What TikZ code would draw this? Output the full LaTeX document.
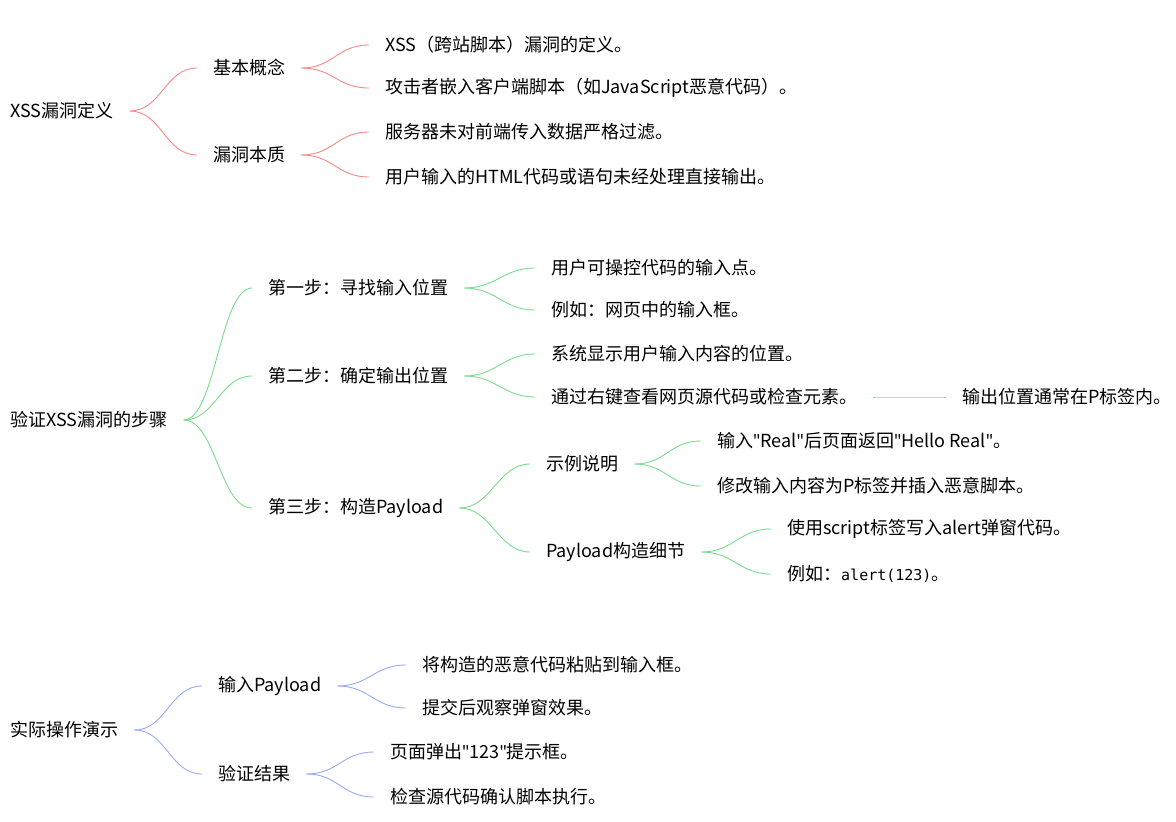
\documentclass[tikz,border=0pt]{standalone}
\usepackage{fontspec}
\setmainfont{Noto Sans CJK SC}
\newfontfamily\monof{DejaVu Sans Mono}
\newfontfamily\qf{Noto Sans}
\definecolor{cr}{RGB}{250,135,135}
\definecolor{cg}{RGB}{120,220,140}
\definecolor{cb}{RGB}{150,170,250}
\newcommand\q{{\qf"}}
\tikzset{t/.style={anchor=west,inner sep=0pt,font=\fontsize{18}{21}\selectfont},
 br/.style={line width=0.9pt}}
\newcommand\lnk[3]{\draw[br,#1] ([xshift=16pt]#2.east) .. controls +(32pt,0) and +(-32pt,0) .. ([xshift=-16pt]#3.west);}
\begin{document}
\begin{tikzpicture}[x=1pt,y=-1pt]
\useasboundingbox (0,0) rectangle (1176,822);
\node[t] (A) at (10,111) {XSS漏洞定义};
\node[t] (A1) at (213,68) {基本概念};
\node[t] (A11) at (385,45) {XSS（跨站脚本）漏洞的定义。};
\node[t] (A12) at (385,88) {攻击者嵌入客户端脚本（如JavaScript恶意代码）。};
\node[t] (A2) at (213,155) {漏洞本质};
\node[t] (A21) at (385,132) {服务器未对前端传入数据严格过滤。};
\node[t] (A22) at (385,177) {用户输入的HTML代码或语句未经处理直接输出。};
\foreach \a/\b in {A/A1,A/A2,A1/A11,A1/A12,A2/A21,A2/A22}{\lnk{cr}{\a}{\b}}
\node[t] (B) at (10,420) {验证XSS漏洞的步骤};
\node[t] (B1) at (268,288) {第一步：寻找输入位置};
\node[t] (B11) at (551,268) {用户可操控代码的输入点。};
\node[t] (B12) at (551,310) {例如：网页中的输入框。};
\node[t] (B2) at (268,376) {第二步：确定输出位置};
\node[t] (B21) at (551,354) {系统显示用户输入内容的位置。};
\node[t] (B22) at (551,397) {通过右键查看网页源代码或检查元素。};
\node[t] (B221) at (962,397) {输出位置通常在P标签内。};
\node[t] (B3) at (268,508) {第三步：构造Payload};
\node[t] (B31) at (546,464) {示例说明};
\node[t] (B311) at (717,441) {输入\q Real\q 后页面返回\q Hello Real\q 。};
\node[t] (B312) at (717,486) {修改输入内容为P标签并插入恶意脚本。};
\node[t] (B32) at (546,552) {Payload构造细节};
\node[t] (B321) at (787,529) {使用script标签写入alert弹窗代码。};
\node[t] (B322) at (787,574) {例如：{\monof\fontsize{15}{18}\selectfont alert(123)}。};
\foreach \a/\b in {B/B1,B/B2,B/B3,B1/B11,B1/B12,B2/B21,B2/B22,B22/B221,B3/B31,B3/B32,B31/B311,B31/B312,B32/B321,B32/B322}{\lnk{cg}{\a}{\b}}
\node[t] (C) at (10,730) {实际操作演示};
\node[t] (C1) at (218,686) {输入Payload};
\node[t] (C11) at (422,665) {将构造的恶意代码粘贴到输入框。};
\node[t] (C12) at (422,708) {提交后观察弹窗效果。};
\node[t] (C2) at (218,774) {验证结果};
\node[t] (C21) at (390,752) {页面弹出\q 123\q 提示框。};
\node[t] (C22) at (390,797) {检查源代码确认脚本执行。};
\foreach \a/\b in {C/C1,C/C2,C1/C11,C1/C12,C2/C21,C2/C22}{\lnk{cb}{\a}{\b}}
\end{tikzpicture}
\end{document}
